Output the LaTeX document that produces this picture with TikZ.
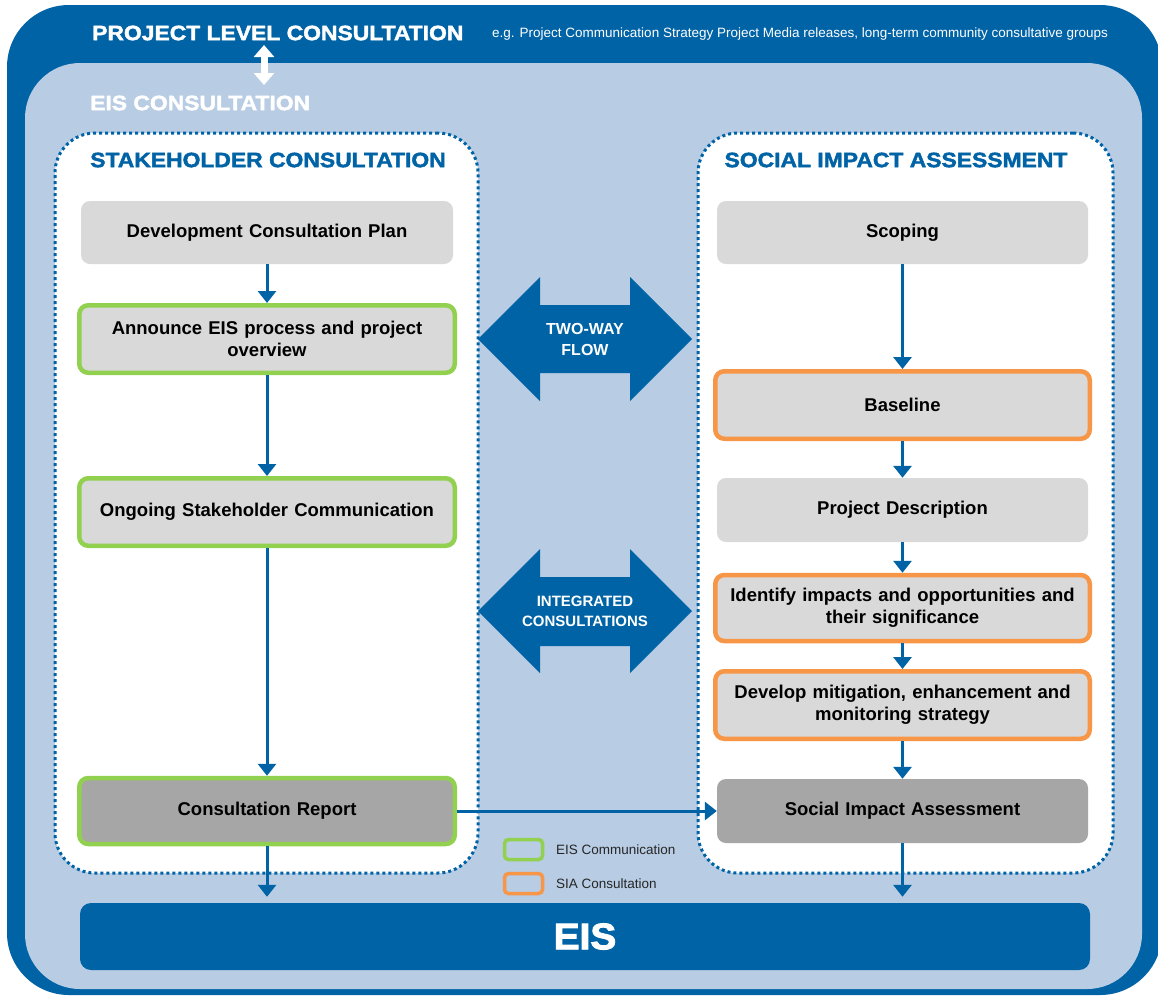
\documentclass[tikz,border=0pt]{standalone}
\usepackage{fontspec}
\setmainfont{Liberation Sans}
\newfontfamily\titlefont[FakeStretch=1.1,FakeBold=2]{Liberation Sans Bold}
\newfontfamily\bigfont[FakeStretch=1.05,FakeBold=2.5]{Liberation Sans Bold}
\usetikzlibrary{arrows.meta}
\definecolor{dblue}{HTML}{0063A6}
\definecolor{lblue}{HTML}{B8CCE4}
\definecolor{boxgray}{HTML}{D9D9D9}
\definecolor{dgray}{HTML}{A6A6A6}
\definecolor{egreen}{HTML}{92D050}
\definecolor{sorange}{HTML}{F79646}
\definecolor{legtext}{HTML}{262626}
\begin{document}
\begin{tikzpicture}[x=1pt,y=-1pt,
  frame/.style={rounded corners=#1, inner sep=0pt},
  dotbox/.style={fill=white, draw=dblue, line width=3pt, dash pattern=on 3pt off 3pt, rounded corners=40pt, inner sep=0pt},
  stepbox/.style={fill=boxgray, rounded corners=9pt, inner sep=0pt, align=center, text width=355pt,
     font=\fontsize{18.5}{22}\selectfont\bfseries},
  darkbox/.style={stepbox, fill=dgray},
  eisbox/.style={stepbox, draw=egreen, line width=4.5pt},
  siabox/.style={stepbox, draw=sorange, line width=4.5pt},
  ttl/.style={font=\fontsize{20.8}{24}\titlefont, inner sep=0pt},
  flow/.style={draw=dblue, line width=3pt, -{Triangle[width=18pt,length=12pt]}},
  bigtext/.style={text=white, align=center, inner sep=0pt},
  legbox/.style={line width=3.5pt, rounded corners=4pt, minimum width=38pt, minimum height=20pt, inner sep=0pt},
  legtxt/.style={text=legtext, font=\fontsize{13.5}{15}\selectfont, anchor=west, inner sep=0pt}
]
\useasboundingbox (0,0) rectangle (1158,997);
% frames
\node[frame=62pt, fill=dblue, minimum width=1155pt, minimum height=990pt] (outer) at (584.5,500) {};
\node[frame=55pt, fill=lblue, minimum width=1117pt, minimum height=926pt] (inner) at (583.5,526) {};
\node[dotbox, minimum width=423pt, minimum height=740pt] (lframe) at (266.5,503) {};
\node[dotbox, minimum width=415pt, minimum height=740pt] (rframe) at (905.5,503) {};

% headings
\node[ttl, text=white, anchor=west] (plc) at (92,33) {PROJECT LEVEL CONSULTATION};
\node[text=white, font=\fontsize{13.5}{15}\selectfont, anchor=west, inner sep=0pt] (eg) at (492,34)
  {e.g. Project Communication Strategy Project Media releases, long-term community consultative groups};
\node[ttl, text=white, anchor=west] (eisc) at (90,103) {EIS CONSULTATION};
\coordinate (pa) at (264,45);
\coordinate (pb) at (264,85);
\draw[white, line width=7pt, {Triangle[width=20pt,length=12pt]}-{Triangle[width=20pt,length=12pt]}] (pa) -- (pb);

\node[ttl, text=dblue] (shct) at (268,160) {STAKEHOLDER CONSULTATION};
\node[ttl, text=dblue] (siat) at (896,160) {SOCIAL IMPACT ASSESSMENT};

% left column
\node[stepbox, minimum width=372pt, minimum height=63pt] (dcp) at (267,232.5) {Development Consultation Plan};
\node[eisbox, minimum width=375.5pt, minimum height=67.5pt] (ann) at (267,339) {Announce EIS process and project\\overview};
\node[eisbox, minimum width=375.5pt, minimum height=67.5pt] (ong) at (267,512) {Ongoing Stakeholder Communication};
\node[eisbox, fill=dgray, minimum width=375.5pt, minimum height=66pt] (rep) at (267,811) {Consultation Report};

% right column
\node[stepbox, minimum width=371pt, minimum height=63pt] (scp) at (902.5,232.5) {Scoping};
\node[siabox, minimum width=374.5pt, minimum height=67.5pt] (base) at (902.5,405) {Baseline};
\node[stepbox, minimum width=371pt, minimum height=64pt] (pd) at (902.5,510) {Project Description};
\node[siabox, minimum width=374.5pt, minimum height=66pt] (idf) at (902.5,608) {Identify impacts and opportunities and\\their significance};
\node[siabox, minimum width=374.5pt, minimum height=67.5pt] (dev) at (902.5,705) {Develop mitigation, enhancement and\\monitoring strategy};
\node[darkbox, minimum width=371pt, minimum height=64pt] (sia) at (902.5,811) {Social Impact Assessment};

% EIS
\node[fill=dblue, rounded corners=11pt, minimum width=1010pt, minimum height=67pt, inner sep=0pt,
  text=white, font=\fontsize{37}{40}\bigfont] (eis) at (585,936.5) {EIS};

% big double arrows
\fill[dblue] (478,339) -- (540,277) -- (540,305) -- (630,305) -- (630,277) -- (692,339)
  -- (630,401) -- (630,373) -- (540,373) -- (540,401) -- cycle;
\node[bigtext, font=\fontsize{16}{21}\selectfont\bfseries] (tw) at (585,339) {TWO-WAY\\FLOW};
\fill[dblue] (478,611) -- (540,549) -- (540,577) -- (630,577) -- (630,549) -- (692,611)
  -- (630,673) -- (630,646) -- (540,646) -- (540,673) -- cycle;
\node[bigtext, font=\fontsize{15}{20}\selectfont\bfseries] (ic) at (585,611) {INTEGRATED\\CONSULTATIONS};

% connectors
\draw[flow] (dcp) -- (ann);
\draw[flow] (ann) -- (ong);
\draw[flow] (ong) -- (rep);
\draw[flow, shorten >=6pt] (rep.south) -- (rep.south |- eis.north);
\draw[flow] (scp) -- (base);
\draw[flow] (base) -- (pd);
\draw[flow] (pd) -- (idf);
\draw[flow] (idf) -- (dev);
\draw[flow] (dev) -- (sia);
\draw[flow, shorten >=6pt] (sia.south) -- (sia.south |- eis.north);
\draw[flow] (rep.east) -- (sia.west);

% legend
\node[legbox, draw=egreen] (lg1) at (523.5,849.5) {};
\node[legbox, draw=sorange] (lg2) at (523.5,883.5) {};
\node[legtxt] (lt1) at (556,850) {EIS Communication};
\node[legtxt] (lt2) at (556,884) {SIA Consultation};
\end{tikzpicture}
\end{document}
